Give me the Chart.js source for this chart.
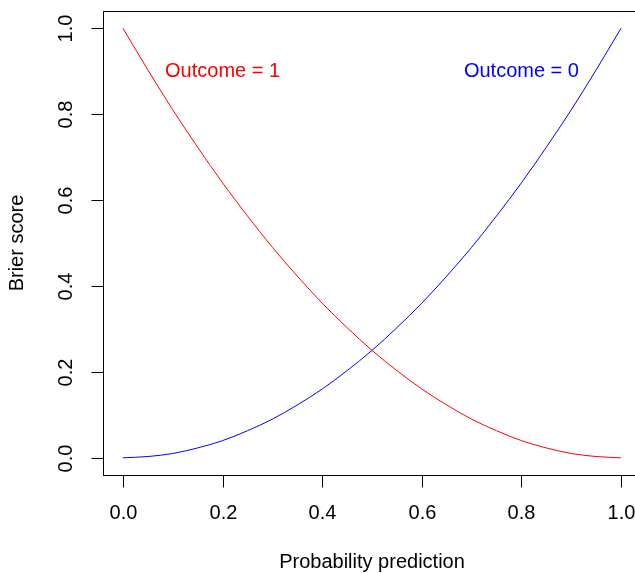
<!DOCTYPE html>
<html>
<head>
<meta charset="utf-8">
<script src="https://cdn.jsdelivr.net/npm/chart.js@4/dist/chart.umd.min.js"></script>
<style>
	html, body {margin:0; padding:0; background:#fff; overflow:hidden;}
	#wrap {width:660px; height:573px;}
</style>
</head>
<body>
<div id="wrap"><canvas id="brierChart" width="660" height="573"></canvas></div>
<script>
// values (prediction vs Brier score)
var probs     = [0, 0.05, 0.1, 0.15, 0.2, 0.25, 0.3, 0.35, 0.4, 0.45, 0.5, 0.55, 0.6, 0.65, 0.7, 0.75, 0.8, 0.85, 0.9, 0.95, 1];
var outcome1  = [1, 0.903, 0.81, 0.723, 0.64, 0.563, 0.49, 0.423, 0.36, 0.303, 0.25, 0.203, 0.16, 0.123, 0.09, 0.063, 0.04, 0.023, 0.01, 0.003, 0];
var outcome0  = [0, 0.003, 0.01, 0.023, 0.04, 0.063, 0.09, 0.123, 0.16, 0.203, 0.25, 0.303, 0.36, 0.423, 0.49, 0.563, 0.64, 0.723, 0.81, 0.903, 1];
var xTicks    = [0, 0.2, 0.4, 0.6, 0.8, 1];
var yTicks    = [0, 0.2, 0.4, 0.6, 0.8, 1];
var tickText  = ["0.0", "0.2", "0.4", "0.6", "0.8", "1.0"];
var labelText = ["Outcome = 1", "Outcome = 0"];
var labelX    = [0.2, 0.8];
var labelY    = [0.9, 0.9];

var FONT = "20px 'Liberation Sans', Arial, Helvetica, sans-serif";

//pair the x and y arrays for the line datasets
function toPoints(ys){
	var pts = [];
	for(var i=0; i<probs.length; i++){ pts.push({x: probs[i], y: ys[i]}); }
	return pts;
}

//draw the R style box, axes, ticks and text
var baseAxes = {
	id: 'baseAxes',
	afterDraw: function(chart){
		var ctx = chart.ctx, xs = chart.scales.x, ys = chart.scales.y, a = chart.chartArea;
		var L = Math.round(a.left)+0.5, T = Math.round(a.top)+0.5, R = Math.round(a.right)+0.5, B = Math.round(a.bottom)+0.5;
		ctx.save();
		ctx.strokeStyle = "#000";
		ctx.lineWidth = 1;
		ctx.strokeRect(L, T, R-L, B-T);

		ctx.fillStyle = "#000";
		ctx.font = FONT;
		// x axis
		ctx.beginPath();
		ctx.moveTo(Math.round(xs.getPixelForValue(xTicks[0]))+0.5, B);
		ctx.lineTo(Math.round(xs.getPixelForValue(xTicks[xTicks.length-1]))+0.5, B);
		ctx.textAlign = "center";
		ctx.textBaseline = "middle";
		for(var i=0; i<xTicks.length; i++){
			var px = Math.round(xs.getPixelForValue(xTicks[i]))+0.5;
			ctx.moveTo(px, B);
			ctx.lineTo(px, B+12);
			ctx.fillText(tickText[i], px, B+38);
		}
		// y axis
		ctx.moveTo(L, Math.round(ys.getPixelForValue(yTicks[0]))+0.5);
		ctx.lineTo(L, Math.round(ys.getPixelForValue(yTicks[yTicks.length-1]))+0.5);
		for(var j=0; j<yTicks.length; j++){
			var py = Math.round(ys.getPixelForValue(yTicks[j]))+0.5;
			ctx.moveTo(L, py);
			ctx.lineTo(L-12, py);
			ctx.save();
			ctx.translate(L-37, py);
			ctx.rotate(-Math.PI/2);
			ctx.fillText(tickText[j], 0, 0);
			ctx.restore();
		}
		ctx.stroke();

		// axis titles
		ctx.fillText("Probability prediction", (a.left+a.right)/2, 562);
		ctx.save();
		ctx.translate(17, (a.top+a.bottom)/2);
		ctx.rotate(-Math.PI/2);
		ctx.fillText("Brier score", 0, 0);
		ctx.restore();

		// curve labels
		var cols = ["#FF0000", "#0000FF"];
		for(var k=0; k<labelText.length; k++){
			ctx.fillStyle = cols[k];
			ctx.fillText(labelText[k], xs.getPixelForValue(labelX[k]), ys.getPixelForValue(labelY[k]));
		}
		ctx.restore();
	}
};

new Chart("brierChart", {
	type: 'line',
	data: {
		datasets: [{
			label: labelText[0],
			data: toPoints(outcome1),
			borderColor: "#FF0000",
			borderWidth: 1,
			pointRadius: 0,
			cubicInterpolationMode: 'monotone',
			fill: false
		},{
			label: labelText[1],
			data: toPoints(outcome0),
			borderColor: "#0000FF",
			borderWidth: 1,
			pointRadius: 0,
			cubicInterpolationMode: 'monotone',
			fill: false
		}]
	},
	options: {
		responsive: false,
		devicePixelRatio: 1,
		animation: false,
		layout: {padding: {left: 103, top: 11, right: 19, bottom: 98}},
		plugins: {legend: {display: false}, tooltip: {enabled: false}},
		scales: {
			x: {type: 'linear', min: -0.04, max: 1.04, display: false},
			y: {type: 'linear', min: -0.04, max: 1.04, display: false}
		}
	},
	plugins: [baseAxes]
});
</script>
</body>
</html>
